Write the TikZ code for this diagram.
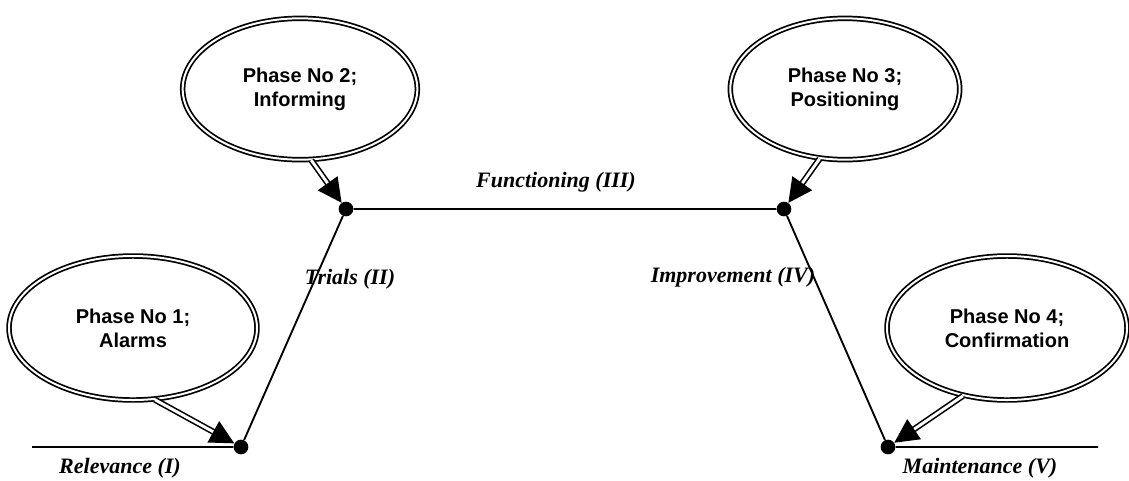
\documentclass[tikz,border=0pt]{standalone}
\usepackage{fontspec}
\setmainfont{Liberation Serif}
\setsansfont{Liberation Sans}
\usetikzlibrary{shapes.geometric}
\usetikzlibrary{arrows.meta}
\tikzset{x=0.75pt,y=-0.75pt,
      phase/.style={draw, ellipse, double, line width=1.3pt,
      double distance=1.5pt, align=center, inner sep=0pt,
      font=\sffamily\bfseries\fontsize{15}{18}\selectfont},
      dot/.style={circle, fill, inner sep=0pt, minimum size=11pt},
      stage/.style={font=\bfseries\itshape\fontsize{16.5}{19}\selectfont},
      pointer/.style={double, line width=1.2pt, double distance=2.2pt,
      -{Triangle[length=18pt,width=18pt]}},
      track/.style={line width=1.4pt}}

\begin{document}
\begin{tikzpicture}
          \useasboundingbox (0,0) rectangle (1129,480);
          % ellipses
          \node[phase, minimum width=186pt, minimum height=108pt] (e1) at (133,328) {Phase No 1;\\Alarms};
          \node[phase, minimum width=176pt, minimum height=106pt] (e2) at (300,89) {Phase No 2;\\Informing};
          \node[phase, minimum width=172pt, minimum height=106pt] (e3) at (845,89) {Phase No 3;\\Positioning};
          \node[phase, minimum width=180pt, minimum height=108pt] (e4) at (1007,328) {Phase No 4;\\Confirmation};

          % the path
          \coordinate (l0) at (32,447);
          \coordinate (r0) at (1098,447);
          \node[dot] (a) at (241,447) {};
          \node[dot] (b) at (346,209) {};
          \node[dot] (c) at (784,209) {};
          \node[dot] (d) at (888,447) {};

          \draw[track] (l0) -- (a) -- (b) -- (c) -- (d) -- (r0);

          \draw[pointer] (e1.-73) -- (a);
          \draw[pointer] (e2.-81) -- (b);
          \draw[pointer] (e3.-110) -- (c);
          \draw[pointer] (e4.-123) -- (d);

          % labels
          \node[stage] (s1) at (120,468) {Relevance (I)};
          \node[stage] (s2) at (350,279) {Trials (II)};
          \node[stage] (s3) at (556,182) {Functioning (III)};
          \node[stage] (s4) at (733,277) {Improvement (IV)};
          \node[stage] (s5) at (980,468) {Maintenance (V)};
       \end{tikzpicture}
\end{document}
